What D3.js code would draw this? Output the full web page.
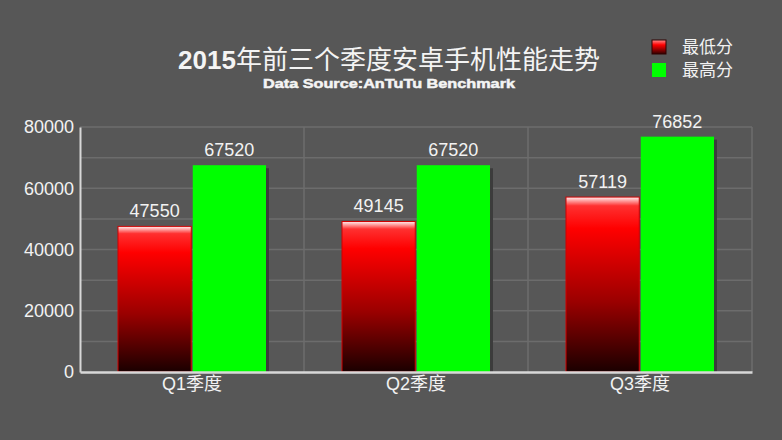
<!DOCTYPE html>
<html><head><meta charset="utf-8">
<script src="https://cdn.jsdelivr.net/npm/d3@7"></script>
<style>body{margin:0;background:#575757;}svg{display:block;}</style>
</head><body>
<svg id="c" width="782" height="440"></svg>
<script>
const categories = ["Q1季度", "Q2季度", "Q3季度"];
const seriesNames = ["最低分", "最高分"];
const lowScores = [47550, 49145, 57119];
const highScores = [67520, 67520, 76852];
const yTicks = [0, 20000, 40000, 60000, 80000];
const gridTicks = [10000, 20000, 30000, 40000, 50000, 60000, 70000, 80000];
const titleMain = "2015";
const titleRest = "年前三个季度安卓手机性能走势";
const subtitle = "Data Source:AnTuTu Benchmark";

const svg = d3.select("#c");
const W = 782, H = 440;
const m = {left: 80, right: 30, top: 127, bottom: 68};
const x0 = d3.scaleBand().domain(categories).range([m.left, W - m.right]).paddingInner(0).paddingOuter(0);
const x1 = d3.scaleBand().domain(seriesNames).range([38, x0.bandwidth() - 38]).paddingInner(0.02);
const y = d3.scaleLinear().domain([0, 80000]).range([H - m.bottom, m.top]);

svg.append("rect").attr("width", W).attr("height", H).attr("fill", "#575757");

const defs = svg.append("defs");
const rg = defs.append("linearGradient").attr("id", "redg").attr("x1", 0).attr("y1", 0).attr("x2", 0).attr("y2", 1);
rg.append("stop").attr("offset", "0%").attr("stop-color", "#fff0f0");
rg.append("stop").attr("offset", "5%").attr("stop-color", "#ff3030");
rg.append("stop").attr("offset", "18%").attr("stop-color", "#ff0000");
rg.append("stop").attr("offset", "60%").attr("stop-color", "#9a0000");
rg.append("stop").attr("offset", "100%").attr("stop-color", "#1a0000");
const lg = defs.append("linearGradient").attr("id", "redl").attr("x1", 0).attr("y1", 0).attr("x2", 0).attr("y2", 1);
lg.append("stop").attr("offset", "0%").attr("stop-color", "#ff9090");
lg.append("stop").attr("offset", "35%").attr("stop-color", "#ff0000");
lg.append("stop").attr("offset", "100%").attr("stop-color", "#300000");

// grid
const grid = svg.append("g");
grid.selectAll("line.h").data(gridTicks).join("line")
  .attr("x1", m.left).attr("x2", W - m.right)
  .attr("y1", d => y(d)).attr("y2", d => y(d))
  .attr("stroke", "#6c6c6c").attr("stroke-width", 1.5);
grid.selectAll("line.v").data(categories.slice(1).map(c => x0(c)).concat([W - m.right])).join("line")
  .attr("x1", d => d).attr("x2", d => d)
  .attr("y1", y(80000)).attr("y2", y(0))
  .attr("stroke", "#6c6c6c").attr("stroke-width", 1.5);

// bars
const groups = svg.append("g").selectAll("g").data(categories).join("g")
  .attr("transform", c => `translate(${x0(c)},0)`);
groups.each(function(c, i) {
  const g = d3.select(this);
  const vals = [lowScores[i], highScores[i]];
  g.append("rect").attr("x", x1(seriesNames[1]) + 3).attr("y", y(vals[1]) + 3)
    .attr("width", x1.bandwidth()).attr("height", y(0) - y(vals[1]) - 3).attr("fill", "#3c3c3c");
  g.append("rect").attr("x", x1(seriesNames[0])).attr("y", y(vals[0]))
    .attr("width", x1.bandwidth()).attr("height", y(0) - y(vals[0]))
    .attr("fill", "url(#redg)").attr("stroke", "#d00000").attr("stroke-width", 1);
  g.append("rect").attr("x", x1(seriesNames[1])).attr("y", y(vals[1]))
    .attr("width", x1.bandwidth()).attr("height", y(0) - y(vals[1]))
    .attr("fill", "#00ff00");
  seriesNames.forEach((s, k) => {
    g.append("text").attr("x", x1(s) + x1.bandwidth() / 2).attr("y", y(vals[k]) - 9)
      .attr("text-anchor", "middle").attr("fill", "#f2f2f2")
      .attr("font-family", "Liberation Sans, Arial, sans-serif").attr("font-size", 18)
      .text(vals[k]);
  });
});

// axes
const yAxis = d3.axisLeft(y).tickValues(yTicks).tickSize(0).tickPadding(6).tickFormat(d3.format("d"));
const ya = svg.append("g").attr("transform", `translate(${m.left},0)`).call(yAxis);
ya.select(".domain").attr("stroke", "#d8d8d8").attr("stroke-width", 2);
ya.selectAll("text").attr("fill", "#f2f2f2").attr("font-size", 18)
  .attr("font-family", "Liberation Sans, Arial, sans-serif");

const xAxis = d3.axisBottom(x0).tickSize(0).tickPadding(5);
const xa = svg.append("g").attr("transform", `translate(0,${y(0)})`).call(xAxis);
xa.select(".domain").attr("stroke", "#d8d8d8").attr("stroke-width", 2.5);
xa.selectAll("text").attr("fill", "#f2f2f2").attr("font-size", 18)
  .attr("font-family", "Liberation Sans, 'Noto Sans CJK SC', sans-serif");

// title
const t = svg.append("text").attr("x", 389).attr("y", 69).attr("text-anchor", "middle")
  .attr("fill", "#f4f4f4").attr("font-size", 26);
t.append("tspan").attr("font-family", "Liberation Sans, Arial, sans-serif").attr("font-weight", "bold").text(titleMain);
t.append("tspan").attr("font-family", "'Noto Sans CJK SC', sans-serif").attr("font-weight", "normal").text(titleRest);
svg.append("text").attr("x", 389).attr("y", 88).attr("text-anchor", "middle")
  .attr("fill", "#f4f4f4").attr("font-size", 13).attr("font-weight", "bold")
  .attr("stroke", "#f4f4f4").attr("stroke-width", 0.5)
  .attr("textLength", 252).attr("lengthAdjust", "spacingAndGlyphs")
  .attr("font-family", "Liberation Sans, Arial, sans-serif").text(subtitle);

// legend
const legendFills = ["url(#redl)", "#00ff00"];
const leg = svg.append("g").selectAll("g").data(seriesNames).join("g")
  .attr("transform", (d, i) => `translate(652,${40 + i * 23})`);
leg.append("rect").attr("width", 14).attr("height", 14)
  .attr("fill", (d, i) => legendFills[i]).attr("stroke", (d, i) => i === 0 ? "#300000" : "none");
leg.append("text").attr("x", 30).attr("y", 13).attr("fill", "#f2f2f2").attr("font-size", 17)
  .attr("font-family", "'Noto Sans CJK SC', sans-serif").text(d => d);
</script>
</body></html>
